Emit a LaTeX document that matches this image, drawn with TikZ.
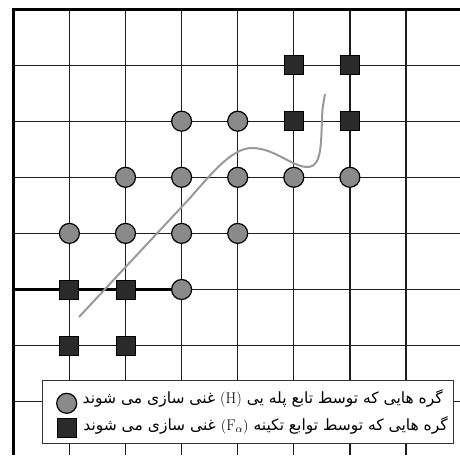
\documentclass[tikz,border=0pt]{standalone}
\usepackage{fontspec}
\newfontfamily\arabicfont[Script=Arabic]{DejaVu Sans}
\TeXXeTstate=1
\definecolor{gridc}{HTML}{1E1E1E}
\definecolor{circfill}{HTML}{8A8A8A}
\definecolor{sqfill}{HTML}{2A2A2A}
\definecolor{curvec}{HTML}{999999}
\tikzset{
  gridline/.style={draw=gridc, line width=1.2pt},
  borderline/.style={draw=black, line width=3pt},
  hnode/.style={circle, draw=black, line width=1.2pt, fill=circfill, minimum size=20pt, inner sep=0pt},
  fnode/.style={rectangle, draw=black, line width=1pt, fill=sqfill, minimum size=19pt, inner sep=0pt},
  legendbox/.style={draw=black!80, line width=1pt, fill=white},
  legtext/.style={inner sep=0pt, font=\fontsize{15.5}{17}\selectfont},
  curveline/.style={draw=curvec, line width=2pt}
}
\begin{document}
\begin{tikzpicture}[x=1pt,y=-1pt]
\useasboundingbox (0,0) rectangle (460,455);
% grid
\foreach \i in {1,...,7} {
  \draw[gridline] ({13.3+56.1*\i},9) -- ({13.3+56.1*\i},455);
  \draw[gridline] (13.3,{9+56.1*\i}) -- (460,{9+56.1*\i});
}
\draw[draw=black, line width=2.2pt] (13.3,{9+56.1*5}) -- ({13.3+56.1*3},{9+56.1*5});
\draw[borderline] (13.3,455) -- (13.3,9) -- (460,9);
% curve
\draw[curveline] (79,317) -- (190,198)
  .. controls (212,173) and (232,148) .. (252,148)
  .. controls (275,148) and (293,168) .. (309,167)
  .. controls (322,166) and (321,140) .. (322,120)
  .. controls (322,108) and (324,100) .. (325,94);
% nodes F
\node[fnode] (f1) at ({13.3+56.1*5},{9+56.1*1}) {};
\node[fnode] (f2) at ({13.3+56.1*6},{9+56.1*1}) {};
\node[fnode] (f3) at ({13.3+56.1*5},{9+56.1*2}) {};
\node[fnode] (f4) at ({13.3+56.1*6},{9+56.1*2}) {};
\node[fnode] (f5) at ({13.3+56.1*1},{9+56.1*5}) {};
\node[fnode] (f6) at ({13.3+56.1*2},{9+56.1*5}) {};
\node[fnode] (f7) at ({13.3+56.1*1},{9+56.1*6}) {};
\node[fnode] (f8) at ({13.3+56.1*2},{9+56.1*6}) {};
% nodes H
\node[hnode] (h1) at ({13.3+56.1*3},{9+56.1*2}) {};
\node[hnode] (h2) at ({13.3+56.1*4},{9+56.1*2}) {};
\node[hnode] (h3) at ({13.3+56.1*2},{9+56.1*3}) {};
\node[hnode] (h4) at ({13.3+56.1*3},{9+56.1*3}) {};
\node[hnode] (h5) at ({13.3+56.1*4},{9+56.1*3}) {};
\node[hnode] (h6) at ({13.3+56.1*5},{9+56.1*3}) {};
\node[hnode] (h7) at ({13.3+56.1*6},{9+56.1*3}) {};
\node[hnode] (h8) at ({13.3+56.1*1},{9+56.1*4}) {};
\node[hnode] (h9) at ({13.3+56.1*2},{9+56.1*4}) {};
\node[hnode] (h10) at ({13.3+56.1*3},{9+56.1*4}) {};
\node[hnode] (h11) at ({13.3+56.1*4},{9+56.1*4}) {};
\node[hnode] (h12) at ({13.3+56.1*3},{9+56.1*5}) {};
% legend
\node[legendbox, minimum width=411pt, minimum height=63pt, anchor=north west, inner sep=0pt] (leg) at (41.7,380) {};
\node[hnode] (legh) at (66.7,403.3) {};
\node[fnode] (legf) at (66.7,428.3) {};
\node[legtext, anchor=east] (t1) at (443,398) {\arabicfont\beginR گره هایی که توسط تابع پله یی \beginL{\rmfamily (H)}\endL{} غنی سازی می شوند\endR};
\node[legtext, anchor=east] (t2) at (448,425) {\arabicfont\beginR گره هایی که توسط توابع تکینه \beginL{\rmfamily $(\mathrm{F}_{\alpha})$}\endL{} غنی سازی می شوند\endR};
\end{tikzpicture}
\end{document}
